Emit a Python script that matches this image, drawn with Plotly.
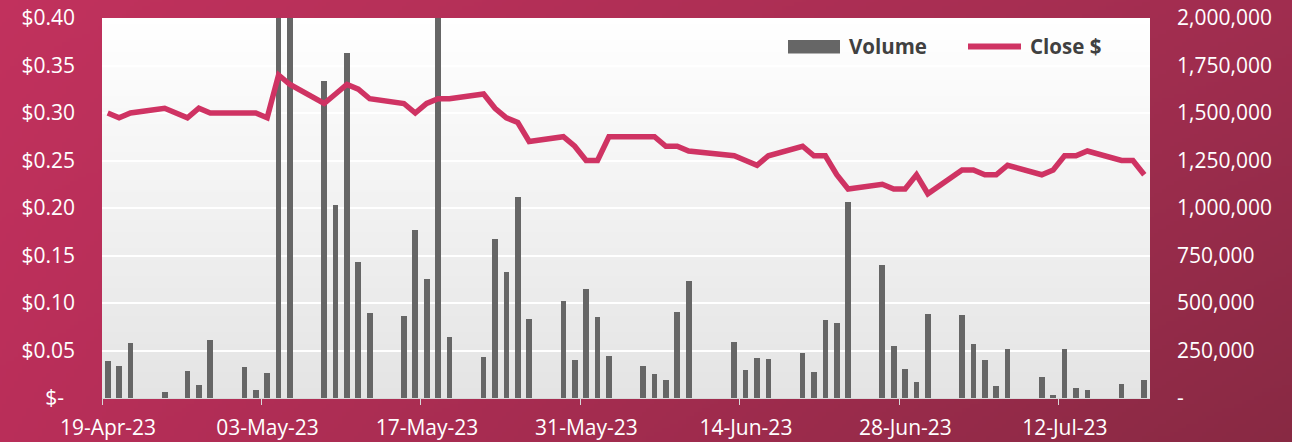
import base64
import struct
import zlib

import plotly.graph_objects as go

# ---------------- data ----------------
dates = [
    "2023-04-19", "2023-04-20", "2023-04-21", "2023-04-24", "2023-04-26", "2023-04-27", "2023-04-28",
    "2023-05-01", "2023-05-02", "2023-05-03", "2023-05-04", "2023-05-05",
    "2023-05-08", "2023-05-09", "2023-05-10", "2023-05-11", "2023-05-12",
    "2023-05-15", "2023-05-16", "2023-05-17", "2023-05-18", "2023-05-19",
    "2023-05-22", "2023-05-23", "2023-05-24", "2023-05-25", "2023-05-26",
    "2023-05-29", "2023-05-30", "2023-05-31", "2023-06-01", "2023-06-02",
    "2023-06-05", "2023-06-06", "2023-06-07", "2023-06-08", "2023-06-09",
    "2023-06-13", "2023-06-14", "2023-06-15", "2023-06-16",
    "2023-06-19", "2023-06-20", "2023-06-21", "2023-06-22", "2023-06-23",
    "2023-06-26", "2023-06-27", "2023-06-28", "2023-06-29", "2023-06-30",
    "2023-07-03", "2023-07-04", "2023-07-05", "2023-07-06", "2023-07-07",
    "2023-07-10", "2023-07-11", "2023-07-12", "2023-07-13", "2023-07-14",
    "2023-07-17", "2023-07-18", "2023-07-19",
]

volume = [
    196000, 170000, 289000, 30000, 144000, 70000, 307000,
    165000, 40000, 132000, 2900000, 2400000,
    1670000, 1017000, 1816000, 716000, 449000,
    433000, 886000, 625000, 2600000, 319000,
    216000, 837000, 665000, 1056000, 416000,
    509000, 198000, 575000, 426000, 223000,
    170000, 128000, 93000, 451000, 614000,
    295000, 149000, 211000, 204000,
    237000, 139000, 412000, 396000, 1033000,
    700000, 272000, 153000, 82000, 442000,
    437000, 284000, 202000, 65000, 260000,
    110000, 18000, 258000, 51000, 40000,
    75000, 0, 96000,
]

close = [
    0.300, 0.295, 0.300, 0.305, 0.295, 0.305, 0.300,
    0.300, 0.300, 0.295, 0.340, 0.330,
    0.310, 0.320, 0.330, 0.325, 0.315,
    0.310, 0.300, 0.310, 0.315, 0.315,
    0.320, 0.305, 0.295, 0.290, 0.270,
    0.275, 0.265, 0.250, 0.250, 0.275,
    0.275, 0.275, 0.265, 0.265, 0.260,
    0.255, 0.250, 0.245, 0.255,
    0.265, 0.255, 0.255, 0.235, 0.220,
    0.225, 0.220, 0.220, 0.235, 0.215,
    0.240, 0.240, 0.235, 0.235, 0.245,
    0.235, 0.240, 0.255, 0.255, 0.260,
    0.250, 0.250, 0.235,
]

price_ticks = [0, 0.05, 0.10, 0.15, 0.20, 0.25, 0.30, 0.35, 0.40]
price_labels = ["$-\u00a0\u00a0", "$0.05", "$0.10", "$0.15", "$0.20", "$0.25", "$0.30", "$0.35", "$0.40"]
vol_ticks = [0, 250000, 500000, 750000, 1000000, 1250000, 1500000, 1750000, 2000000]
vol_labels = ["-", "250,000", "500,000", "750,000", "1,000,000", "1,250,000", "1,500,000", "1,750,000", "2,000,000"]

# ---------------- geometry / style ----------------
W, H = 1292, 442
ML, MR, MT, MB = 102, 142, 18, 44
PW, PH = W - ML - MR, H - MT - MB
FONT = "Open Sans"
BAR_COLOR = "#666666"
LINE_COLOR = "#CF3363"
DAY = 86400000


def make_png(w, h, fn):
    raw = bytearray()
    for j in range(h):
        raw.append(0)
        for i in range(w):
            raw.extend(fn(i / (w - 1), j / (h - 1)))

    def chunk(tag, data):
        c = tag + data
        return struct.pack(">I", len(data)) + c + struct.pack(">I", zlib.crc32(c) & 0xFFFFFFFF)

    png = b"\x89PNG\r\n\x1a\n"
    png += chunk(b"IHDR", struct.pack(">IIBBBBB", w, h, 8, 2, 0, 0, 0))
    png += chunk(b"IDAT", zlib.compress(bytes(raw), 9))
    png += chunk(b"IEND", b"")
    return "data:image/png;base64," + base64.b64encode(png).decode()


TL, TR, BL, BR = (193, 49, 93), (160, 45, 79), (185, 46, 89), (136, 41, 67)


def bg_fn(u, v):
    return bytes(
        int(round((TL[k] * (1 - u) + TR[k] * u) * (1 - v) + (BL[k] * (1 - u) + BR[k] * u) * v))
        for k in range(3)
    )


def plot_fn(u, v):
    c = int(round(255 - (255 - 228) * v))
    return bytes((c, c, c))


bg_src = make_png(323, 111, bg_fn)
plot_src = make_png(4, 95, plot_fn)

fig = go.Figure()
fig.add_trace(go.Bar(
    x=dates, y=volume, name="Volume",
    marker=dict(color=BAR_COLOR, line=dict(width=0)),
    width=0.5 * DAY, xperiod=DAY, xperiodalignment="middle",
    yaxis="y", showlegend=False,
))
fig.add_trace(go.Scatter(
    x=dates, y=close, name="Close $", mode="lines",
    line=dict(color=LINE_COLOR, width=5.5),
    xperiod=DAY, xperiodalignment="middle",
    yaxis="y2", showlegend=False,
))


def px_x(p):
    return (p - ML) / PW


def px_y(p):
    return (H - MB - p) / PH


LEG_FONT = dict(family=FONT, size=20.5, color="#404040", weight="bold")
shapes = [
    dict(type="rect", xref="paper", yref="paper",
         x0=px_x(788), x1=px_x(840), y0=px_y(53.5), y1=px_y(40),
         fillcolor=BAR_COLOR, line=dict(width=0)),
    dict(type="line", xref="paper", yref="paper",
         x0=px_x(968), x1=px_x(1021), y0=px_y(46.5), y1=px_y(46.5),
         line=dict(color=LINE_COLOR, width=6)),
]
annotations = [
    dict(xref="paper", yref="paper", x=px_x(847), y=px_y(46.5), text="Volume",
         showarrow=False, xanchor="left", yanchor="middle", font=LEG_FONT),
    dict(xref="paper", yref="paper", x=px_x(1028), y=px_y(46.5), text="Close $",
         showarrow=False, xanchor="left", yanchor="middle", font=LEG_FONT),
]

images = [
    dict(source=bg_src, xref="paper", yref="paper",
         x=-ML / PW, y=(PH + MT) / PH, sizex=W / PW, sizey=H / PH,
         xanchor="left", yanchor="top", sizing="stretch", layer="below"),
    dict(source=plot_src, xref="paper", yref="paper",
         x=0, y=1, sizex=1, sizey=1,
         xanchor="left", yanchor="top", sizing="stretch", layer="below"),
]

tickfont = dict(family=FONT, size=21, color="#FFFFFF")

fig.update_layout(
    width=W, height=H,
    margin=dict(l=ML, r=MR, t=MT, b=MB, pad=0, autoexpand=False),
    paper_bgcolor="#A82D55",
    plot_bgcolor="rgba(0,0,0,0)",
    font=dict(family=FONT, size=21, color="#FFFFFF"),
    bargap=0,
    showlegend=False,
    shapes=shapes,
    annotations=annotations,
    images=images,
    xaxis=dict(
        type="date", range=["2023-04-19", "2023-07-20"],
        tick0="2023-04-19", dtick=14 * DAY, tickformat="%d-%b-%y",
        ticks="outside", ticklen=6, tickcolor="#D9D9D9", tickwidth=1,
        showline=True, linecolor="#D9D9D9", linewidth=1,
        showgrid=False, zeroline=False, tickfont=tickfont,
        ticklabelstandoff=5, ticklabelshift=6, automargin=False,
    ),
    yaxis=dict(
        side="right", range=[0, 2000000], tickvals=vol_ticks, ticktext=vol_labels,
        showgrid=False, zeroline=False, showline=False, ticks="",
        tickfont=tickfont, ticklabelstandoff=26, automargin=False,
    ),
    yaxis2=dict(
        side="left", overlaying="y", range=[0, 0.40], tickvals=price_ticks, ticktext=price_labels,
        showgrid=True, gridcolor="#FFFFFF", gridwidth=2, zeroline=False, showline=False, ticks="",
        tickfont=tickfont, ticklabelstandoff=26, automargin=False,
    ),
)

fig.write_html(
    "out.html",
    config={"displayModeBar": False},
    post_script="document.body.style.margin='0';document.body.style.overflow='hidden';",
)
